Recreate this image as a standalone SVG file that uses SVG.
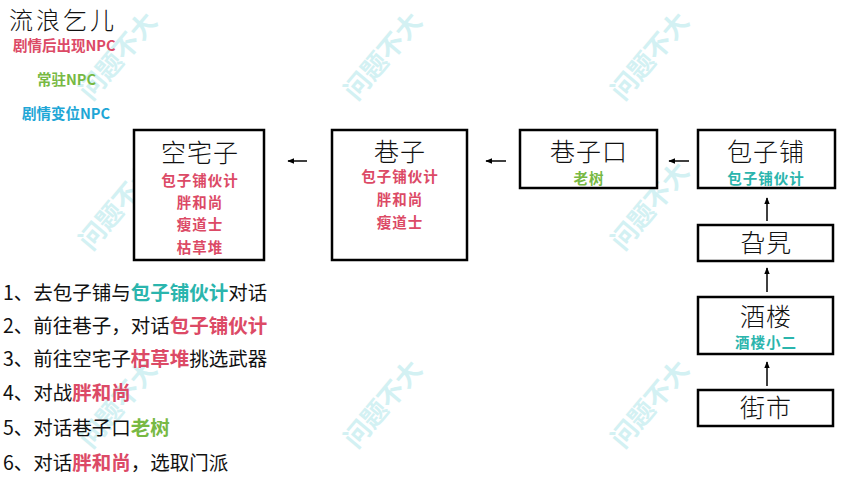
<svg xmlns="http://www.w3.org/2000/svg" width="845" height="480" viewBox="0 0 845 480">
<defs>
<style>
.wm{font-family:"Noto Sans CJK SC",sans-serif;font-weight:bold;font-size:26px;fill:#d3f1f3;}
.box{fill:#fff;stroke:#000;stroke-width:2.5;}
.title{font-family:"Noto Sans CJK SC",sans-serif;font-size:25px;fill:#111;text-anchor:middle;font-weight:300;letter-spacing:1px;}
.sub{font-family:"Noto Sans CJK SC",sans-serif;font-size:14.5px;font-weight:bold;text-anchor:middle;letter-spacing:1px;}
.red{fill:#dc4a66;}
.green{fill:#77b943;}
.teal{fill:#2bb5ad;}
.blue{fill:#1ea6d6;}
.list{font-family:"Noto Sans CJK SC",sans-serif;font-size:19.5px;fill:#111;}
.b{font-weight:bold;}
.legend{font-family:"Noto Sans CJK SC",sans-serif;font-size:14.5px;font-weight:bold;}
.conn{stroke:#000;stroke-width:1.5;fill:none;}
</style>
<marker id="ah" viewBox="0 0 10 10" refX="9" refY="5" markerWidth="7" markerHeight="7" orient="auto" markerUnits="userSpaceOnUse">
<path d="M0,1 L10,5 L0,9 Z" fill="#000"/>
</marker>
</defs>
<rect width="845" height="480" fill="#fff"/>
<g id="watermarks">
<text class="wm" transform="translate(125,62) rotate(-50)" text-anchor="middle">问题不大</text>
<text class="wm" transform="translate(390,62) rotate(-50)" text-anchor="middle">问题不大</text>
<text class="wm" transform="translate(657,62) rotate(-50)" text-anchor="middle">问题不大</text>
<text class="wm" transform="translate(125,212) rotate(-50)" text-anchor="middle">问题不大</text>
<text class="wm" transform="translate(390,212) rotate(-50)" text-anchor="middle">问题不大</text>
<text class="wm" transform="translate(657,212) rotate(-50)" text-anchor="middle">问题不大</text>
<text class="wm" transform="translate(125,410) rotate(-50)" text-anchor="middle">问题不大</text>
<text class="wm" transform="translate(390,410) rotate(-50)" text-anchor="middle">问题不大</text>
<text class="wm" transform="translate(657,410) rotate(-50)" text-anchor="middle">问题不大</text>
</g>
<g id="legend">
<text x="9" y="28.5" font-family="Noto Sans CJK SC,sans-serif" font-size="24" font-weight="300" letter-spacing="3" fill="#111">流浪乞儿</text>
<text x="13" y="51" class="legend red">剧情后出现NPC</text>
<text x="37" y="85" class="legend green">常驻NPC</text>
<text x="22" y="119" class="legend blue">剧情变位NPC</text>
</g>
<g id="connectors">
<line class="conn" x1="307" y1="161" x2="288" y2="161" marker-end="url(#ah)"/>
<line class="conn" x1="506" y1="161" x2="486" y2="161" marker-end="url(#ah)"/>
<line class="conn" x1="689" y1="161" x2="669" y2="161" marker-end="url(#ah)"/>
<line class="conn" x1="767" y1="221" x2="767" y2="198" marker-end="url(#ah)"/>
<line class="conn" x1="767" y1="292" x2="767" y2="268" marker-end="url(#ah)"/>
<line class="conn" x1="767" y1="386" x2="767" y2="362" marker-end="url(#ah)"/>
</g>
<g id="node-kongzhaizi">
<rect class="box" x="134" y="130" width="130" height="130"/>
<text class="title" x="200" y="162">空宅子</text>
<text class="sub red" x="200" y="186">包子铺伙计</text>
<text class="sub red" x="200" y="208">胖和尚</text>
<text class="sub red" x="200" y="230">瘦道士</text>
<text class="sub red" x="200" y="253">枯草堆</text>
</g>
<g id="node-xiangzi">
<rect class="box" x="332" y="130" width="135" height="130"/>
<text class="title" x="400" y="161">巷子</text>
<text class="sub red" x="400" y="182">包子铺伙计</text>
<text class="sub red" x="400" y="205">胖和尚</text>
<text class="sub red" x="400" y="228">瘦道士</text>
</g>
<g id="node-xiangzikou">
<rect class="box" x="520" y="130" width="137" height="58"/>
<text class="title" x="589" y="161">巷子口</text>
<text class="sub green" x="589" y="184">老树</text>
</g>
<g id="node-baozipu">
<rect class="box" x="698" y="130" width="137" height="58"/>
<text class="title" x="766" y="161">包子铺</text>
<text class="sub teal" x="766" y="184">包子铺伙计</text>
</g>
<g id="node-gala">
<rect class="box" x="698" y="225" width="135" height="36"/>
<text class="title" x="766" y="252">旮旯</text>
</g>
<g id="node-jiulou">
<rect class="box" x="698" y="297" width="135" height="57"/>
<text class="title" x="766" y="326">酒楼</text>
<text class="sub teal" x="766" y="348">酒楼小二</text>
</g>
<g id="node-jieshi">
<rect class="box" x="698" y="390" width="135" height="36"/>
<text class="title" x="766" y="417">街市</text>
</g>
<g id="steps">
<text class="list" x="3" y="300">1、去包子铺与<tspan class="b teal">包子铺伙计</tspan>对话</text>
<text class="list" x="3" y="333">2、前往巷子，对话<tspan class="b red">包子铺伙计</tspan></text>
<text class="list" x="3" y="366">3、前往空宅子<tspan class="b red">枯草堆</tspan>挑选武器</text>
<text class="list" x="3" y="400">4、对战<tspan class="b red">胖和尚</tspan></text>
<text class="list" x="3" y="435">5、对话巷子口<tspan class="b green">老树</tspan></text>
<text class="list" x="3" y="470">6、对话<tspan class="b red">胖和尚</tspan>，选取门派</text>
</g>
</svg>
